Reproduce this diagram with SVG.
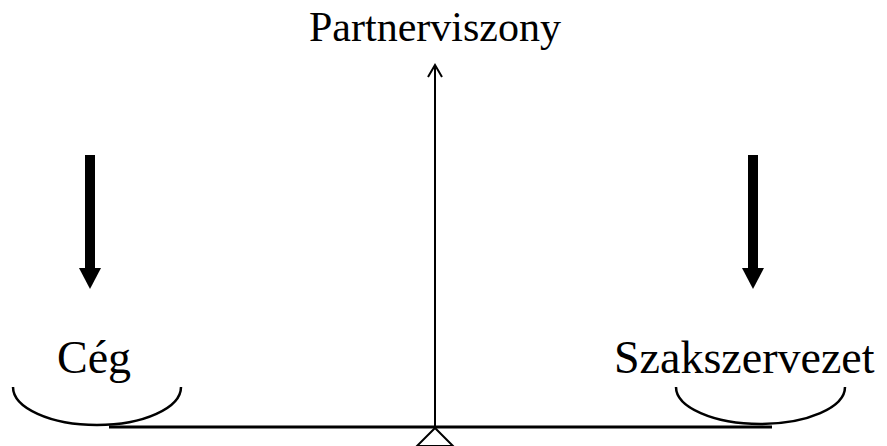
<svg xmlns="http://www.w3.org/2000/svg" width="887" height="446" viewBox="0 0 887 446">
  <style>
    .lbl { font-family: "Liberation Serif", "Times New Roman", serif; font-size: 42px; fill: #000; }
    .big { font-size: 46px; }
    .thin { fill: none; stroke: #000; stroke-width: 2; }
    .pan { fill: none; stroke: #000; stroke-width: 2.5; }
    .heavy { fill: #000; stroke: none; }
  </style>
  <rect width="887" height="446" fill="#fff"/>
  <g id="connectors">
    <line class="thin" x1="435" y1="65" x2="435" y2="426"/>
    <polyline class="thin" points="428,77 435,65 442,77"/>
    <g id="arrow-left">
      <rect class="heavy" x="85" y="155" width="10" height="114"/>
      <polygon class="heavy" points="79,268 101,268 90,289"/>
    </g>
    <g id="arrow-right">
      <rect class="heavy" x="748" y="155" width="10" height="114"/>
      <polygon class="heavy" points="742,268 764,268 753,289"/>
    </g>
  </g>
  <g id="node-partnerviszony">
    <text class="lbl" x="435" y="41" text-anchor="middle">Partnerviszony</text>
  </g>
  <g id="node-ceg">
    <text class="lbl big" x="57" y="373">Cég</text>
    <path class="pan" d="M13,387 A84,38 0 0 0 181,387"/>
  </g>
  <g id="node-szakszervezet">
    <text class="lbl big" x="614" y="373">Szakszervezet</text>
    <path class="pan" d="M676,387 A84.5,37 0 0 0 845,387"/>
  </g>
  <g id="node-beam">
    <line x1="109" y1="427" x2="772" y2="427" stroke="#000" stroke-width="3"/>
    <polygon points="435,428 417,446 453,446" fill="#fff" stroke="#000" stroke-width="2"/>
  </g>
</svg>
